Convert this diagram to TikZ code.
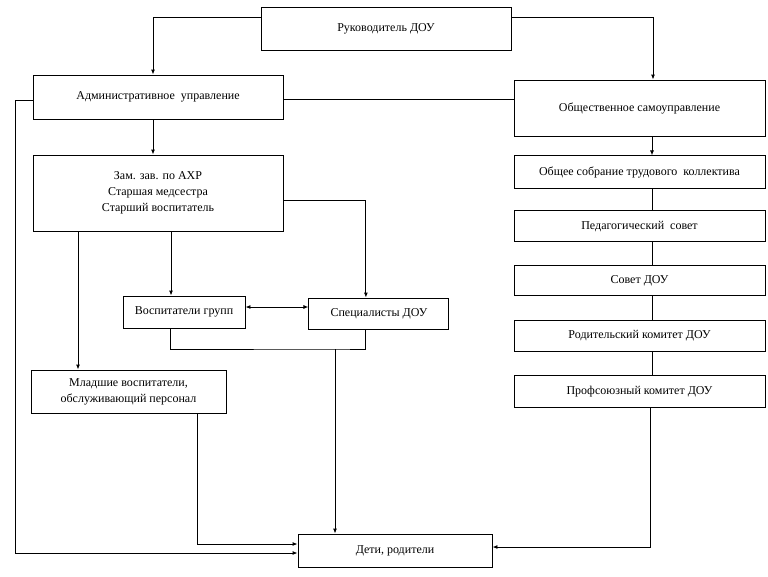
\documentclass[tikz,border=0pt]{standalone}
\usepackage{fontspec}
\setmainfont{Liberation Serif}
\usepackage{tikz}
\usetikzlibrary{positioning}
\usetikzlibrary{arrows.meta}

\begin{document}
\begin{tikzpicture}[x=1pt, y=-1pt, line width=0.9pt, >={Latex[length=5pt,width=4pt]},
  box/.style={draw, align=center, inner sep=2pt, font=\fontsize{12}{16}\selectfont}]
\useasboundingbox (0,0) rectangle (768,576);

\node (leader) [box, minimum width=250pt, minimum height=43pt] at (386,28.5) {Руководитель ДОУ};

\node (adm) [box, minimum width=250pt, minimum height=44pt] at (158,97) {Административное\ \ управление};

\node (pub) [box, minimum width=251pt, minimum height=56pt] at (639.5,108) {Общественное самоуправление};

\node (zam) [box, minimum width=250pt, minimum height=76pt] at (158,193) {Зам. зав. по АХР\\Старшая медсестра\\Старший воспитатель};

\node (meet) [below=19pt of pub, box, minimum width=251pt, minimum height=33pt] {Общее собрание трудового\ \ коллектива};

\node (ped) [below=21pt of meet, box, minimum width=251pt, minimum height=31pt] {Педагогический\ \ совет};

\node (council) [below=23pt of ped, box, minimum width=251pt, minimum height=30pt] {Совет ДОУ};

\node (parcom) [below=24pt of council, box, minimum width=251pt, minimum height=31pt] {Родительский комитет ДОУ};

\node (union) [below=23pt of parcom, box, minimum width=251pt, minimum height=32pt] {Профсоюзный комитет ДОУ};

\node (tutors) [box, minimum width=122pt, minimum height=32pt] at (184,312) {Воспитатели групп};

\node (spec) [right=63pt of tutors, yshift=-1.5pt, box, minimum width=140pt, minimum height=31pt] {Специалисты ДОУ};

\node (junior) [box, minimum width=195pt, minimum height=43pt] at (128.5,391.5) {Младшие воспитатели,\\обслуживающий персонал};

\node (kids) [box, minimum width=194pt, minimum height=33pt] at (395,550.5) {Дети, родители};

\coordinate (leftbus) at (15,0);
\coordinate (merge) at (335,349);

\draw [->] ([yshift=11.5pt]leader.west) -| ([xshift=-5pt]adm.north);
\draw [->] ([yshift=11.5pt]leader.east) -| ([xshift=13.5pt]pub.north);
\draw ([yshift=-2.5pt]adm.east) -- ([yshift=-2.5pt]adm.east -| pub.west);
\draw [->] ([xshift=-5pt]adm.south) -- ([xshift=-5pt]zam.north);
\draw [->] ([yshift=-3pt]adm.west) -- ([yshift=-3pt]adm.west -| leftbus) |- ([yshift=-2.5pt]kids.west);

\draw [->] ([xshift=-80pt]zam.south) -- ([xshift=-80pt]zam.south |- junior.north);
\draw [->] ([xshift=13pt]zam.south) -- ([xshift=13pt]zam.south |- tutors.north);
\draw [->] ([yshift=-7pt]zam.east) -| ([xshift=-13pt]spec.north);
\draw [<->] ([yshift=5pt]tutors.east) -- ([yshift=5pt]tutors.east -| spec.west);

\draw ([xshift=-14pt]tutors.south) |- (merge) -| ([xshift=-13pt]spec.south);
\draw [->] (merge) -- (merge |- kids.north);
\draw [->] ([xshift=68.5pt]junior.south) |- ([yshift=6.5pt]kids.west);
\draw [->] ([xshift=10.5pt]union.south) |- ([yshift=3.5pt]kids.east);

\draw [->] ([xshift=12.5pt]pub.south) -- ([xshift=12.5pt]pub.south |- meet.north);
\draw ([xshift=12.5pt]meet.south) -- ([xshift=12.5pt]meet.south |- ped.north);
\draw ([xshift=12.5pt]ped.south) -- ([xshift=12.5pt]ped.south |- council.north);
\draw ([xshift=12.5pt]council.south) -- ([xshift=12.5pt]council.south |- parcom.north);
\draw ([xshift=12.5pt]parcom.south) -- ([xshift=12.5pt]parcom.south |- union.north);

\end{tikzpicture}
\end{document}
